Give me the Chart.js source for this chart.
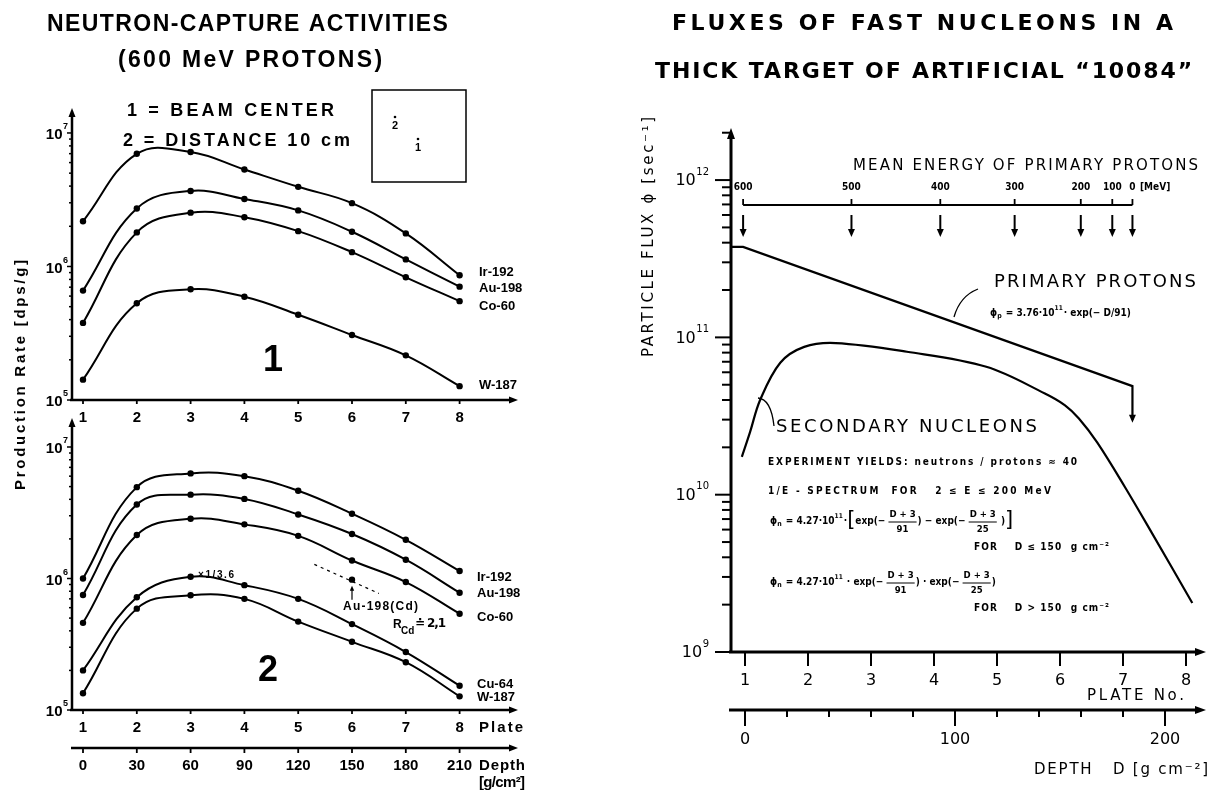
<!DOCTYPE html>
<html>
<head>
<meta charset="utf-8">
<title>Neutron-capture activities / fluxes of fast nucleons</title>
<script src="https://cdn.jsdelivr.net/npm/chart.js@4.4.0/dist/chart.umd.min.js"></script>
<style>
  body { margin: 0; background: #fff; width: 1211px; height: 793px; overflow: hidden; position: relative; }
  canvas { position: absolute; top: 0; }
</style>
</head>
<body>
<canvas id="centerChart" width="590" height="793" style="left:0"></canvas>
<canvas id="offAxisChart" width="590" height="793" style="left:0"></canvas>
<canvas id="fluxChart" width="621" height="793" style="left:590px"></canvas>
<script>
// plate numbers along the target (one plate = 30 g/cm2)
const plates = [1, 2, 3, 4, 5, 6, 7, 8];
const G_PER_PLATE = 30;

// production rates [dps/g], panel 1 = beam center
const centerNames = ['Ir-192', 'Au-198', 'Co-60', 'W-187'];
const ir192Center = [2.18e6, 6.98e6, 7.2e6, 5.33e6, 3.95e6, 2.98e6, 1.77e6, 8.6e5];
const au198Center = [6.6e5, 2.72e6, 3.68e6, 3.2e6, 2.63e6, 1.82e6, 1.13e6, 7.06e5];
const co60Center = [3.78e5, 1.8e6, 2.53e6, 2.34e6, 1.84e6, 1.28e6, 8.3e5, 5.5e5];
const w187Center = [1.42e5, 5.3e5, 6.75e5, 5.93e5, 4.35e5, 3.07e5, 2.16e5, 1.27e5];

// panel 2 = 10 cm from the beam axis
const offAxisNames = ['Ir-192', 'Au-198', 'Co-60', 'Cu-64', 'W-187'];
const ir192Off = [1.0e6, 4.95e6, 6.3e6, 6.0e6, 4.65e6, 3.11e6, 1.97e6, 1.14e6];
const au198Off = [7.5e5, 3.65e6, 4.34e6, 4.03e6, 3.07e6, 2.18e6, 1.39e6, 7.8e5];
const co60Off = [4.6e5, 2.14e6, 2.85e6, 2.58e6, 2.11e6, 1.37e6, 9.4e5, 5.4e5];
const cu64Off = [2.0e5, 7.2e5, 1.03e6, 8.9e5, 7.0e5, 4.5e5, 2.76e5, 1.53e5];
const w187Off = [1.34e5, 5.9e5, 7.45e5, 7.0e5, 4.7e5, 3.3e5, 2.31e5, 1.27e5];
// cadmium-covered gold at plate 6 and the dashed trend through it
const auCdPlate = [6];
const auCdRate = [9.8e5];
const auCdTrendPlate = [5.3, 6.5];
const auCdTrendRate = [1.28e6, 7.7e5];

// fluxes [1/sec] in the thick target
const primaryPlate = [0.78, 0.97, 7.15, 7.15];
const primaryFlux = [3.76e11, 3.76e11, 4.9e10, 3.0e10];
const secondaryPlate = [0.95, 1.08, 1.24, 1.56, 1.94, 2.44, 3.57, 4.83, 5.76, 6.08, 6.3, 6.59, 7.03, 7.46, 8.10];
const secondaryFlux = [1.74e10, 2.5e10, 4.0e10, 6.9e10, 8.7e10, 9.2e10, 8.1e10, 6.5e10, 4.4e10, 3.7e10, 3.05e10, 2.15e10, 1.12e10, 5.7e9, 2.05e9];

// mean primary proton energy [MeV] reached at each plate position
const energyLabels = ['600', '500', '400', '300', '200', '100', '0'];
const energyPlates = [0.97, 2.69, 4.10, 5.28, 6.33, 6.83, 7.15];

// axis tick labels
const leftDecades = [5, 6, 7];
const rightDecades = [9, 10, 11, 12];
const depthLabelsLeft = [0, 30, 60, 90, 120, 150, 180, 210];
const depthLabelsRight = [0, 100, 200];
const depthTicksRight = [0, 20, 40, 60, 80, 100, 120, 140, 160, 180, 200];

const F_LEFT = '"Liberation Sans", "DejaVu Sans", sans-serif';
const F_RIGHT = '"DejaVu Sans", "Liberation Sans", sans-serif';
const F_COND = '"DejaVu Sans Condensed", "Liberation Sans Narrow", "DejaVu Sans", sans-serif';

const depthToPlate = d => 1 + d / G_PER_PLATE;
const pts = (xs, ys) => xs.map((x, i) => ({ x, y: ys[i] }));

function series(xs, ys, extra) {
  return Object.assign({
    data: pts(xs, ys),
    borderColor: '#000', backgroundColor: '#000', borderWidth: 2,
    pointRadius: 3.2, pointBackgroundColor: '#000', pointBorderWidth: 0,
    tension: 0.4, clip: false
  }, extra || {});
}

function options(xmin, xmax, ymin, ymax, padding) {
  return {
    responsive: false, animation: false, events: [],
    layout: { padding },
    plugins: { legend: { display: false }, tooltip: { enabled: false } },
    scales: {
      x: { type: 'linear', min: xmin, max: xmax, display: false },
      y: { type: 'logarithmic', min: ymin, max: ymax, display: false }
    }
  };
}

// ---- drawing helpers ----
function line(ctx, x1, y1, x2, y2, w) {
  ctx.lineWidth = w;
  ctx.beginPath(); ctx.moveTo(x1, y1); ctx.lineTo(x2, y2); ctx.stroke();
}

function arrow(ctx, x, y, dir, len, half) {
  ctx.beginPath();
  ctx.moveTo(x, y);
  if (dir === 'up') { ctx.lineTo(x - half, y + len); ctx.lineTo(x + half, y + len); }
  else if (dir === 'down') { ctx.lineTo(x - half, y - len); ctx.lineTo(x + half, y - len); }
  else { ctx.lineTo(x - len, y - half); ctx.lineTo(x - len, y + half); }
  ctx.closePath(); ctx.fill();
}

// text, optionally spread to a given width via letter spacing
function put(ctx, s, x, y, font, width, align) {
  ctx.font = font;
  ctx.textBaseline = 'middle';
  ctx.letterSpacing = '0px';
  if (width) {
    const w = ctx.measureText(s).width;
    ctx.letterSpacing = ((width - w) / Math.max(1, s.length - 1)).toFixed(2) + 'px';
    ctx.textAlign = 'left';
  } else {
    ctx.textAlign = align || 'left';
  }
  ctx.fillText(s, x, y);
  ctx.letterSpacing = '0px';
}

function putUp(ctx, s, x, yStart, font, width) {
  ctx.save();
  ctx.translate(x, yStart);
  ctx.rotate(-Math.PI / 2);
  put(ctx, s, 0, 0, font, width);
  ctx.restore();
}

// small formula typesetter: strings, {sub}, {sup}, {big}, {num, den}
function formula(ctx, parts, x, y, size) {
  let cx = x;
  const f = s => `bold ${s}px ${F_COND}`;
  ctx.textBaseline = 'middle';
  parts.forEach(p => {
    ctx.textAlign = 'left';
    if (typeof p === 'string') {
      ctx.font = f(size); ctx.fillText(p, cx, y); cx += ctx.measureText(p).width;
    } else if (p.sup) {
      ctx.font = f(size * 0.65); ctx.fillText(p.sup, cx, y - size * 0.45); cx += ctx.measureText(p.sup).width + 1;
    } else if (p.sub) {
      ctx.font = f(size * 0.7); ctx.fillText(p.sub, cx, y + size * 0.35); cx += ctx.measureText(p.sub).width + 1;
    } else if (p.big) {
      ctx.font = `${size * 2.1}px ${F_RIGHT}`; ctx.fillText(p.big, cx, y); cx += ctx.measureText(p.big).width;
    } else if (p.num) {
      ctx.font = f(size * 0.95);
      const w = Math.max(ctx.measureText(p.num).width, ctx.measureText(p.den).width) + 2;
      ctx.textAlign = 'center';
      ctx.fillText(p.num, cx + w / 2, y - size * 0.6);
      ctx.fillText(p.den, cx + w / 2, y + size * 0.85);
      line(ctx, cx, y + 1, cx + w, y + 1, 1);
      cx += w + 1;
    }
  });
}

function logAxis(ctx, a, ys, decades, o) {
  line(ctx, a.left, a.bottom + 1, a.left, a.top + 6, o.width);
  arrow(ctx, a.left, a.top, 'up', o.head, o.half);
  const lo = Math.floor(Math.log10(ys.min)), hi = Math.log10(ys.max);
  for (let e = lo; e <= hi; e++) {
    for (let k = 1; k < 10; k++) {
      const v = k * Math.pow(10, e);
      if (v < ys.min * 0.999 || v > ys.max) continue;
      const py = ys.getPixelForValue(v);
      line(ctx, a.left - (k === 1 ? o.major : o.minor), py, a.left, py, o.tickWidth);
    }
  }
  decades.forEach(e => {
    const py = ys.getPixelForValue(Math.pow(10, e));
    ctx.textAlign = 'right'; ctx.textBaseline = 'middle';
    ctx.font = o.supFont;
    ctx.fillText(String(e), o.labelRight, py + o.supDy);
    const sw = ctx.measureText(String(e)).width;
    ctx.font = o.font;
    ctx.fillText('10', o.labelRight - sw - 0.5, py + o.dy);
  });
}

function plateAxis(ctx, a, xs, o) {
  line(ctx, a.left - 2, a.bottom, a.right - 6, a.bottom, o.width);
  arrow(ctx, a.right, a.bottom, 'right', o.head, o.half);
  plates.forEach(p => {
    const px = xs.getPixelForValue(p);
    line(ctx, px, a.bottom, px, a.bottom + o.tick, o.tickWidth);
    put(ctx, String(p), px, o.labelY, o.font, 0, 'center');
  });
}

const LEFT_Y = {
  width: 2.5, head: 9, half: 3.5, major: 5, minor: 3, tickWidth: 1.5,
  font: `bold 15px ${F_LEFT}`, supFont: `bold 9px ${F_LEFT}`, labelRight: 68, dy: 2, supDy: -6
};
const LEFT_X = { width: 2.5, head: 9, half: 3.5, tick: 4, tickWidth: 1.8, font: `bold 15px ${F_LEFT}` };

function seriesLabels(ctx, ys, names, lasts, offsets, x) {
  names.forEach((n, i) => {
    put(ctx, n, x, ys.getPixelForValue(lasts[i]) + offsets[i], `bold 13px ${F_LEFT}`, 0);
  });
}

// ---- panel 1: beam center ----
const centerDeco = {
  id: 'centerDeco',
  afterDraw(chart) {
    const { ctx, chartArea: a, scales: { x, y } } = chart;
    ctx.save();
    ctx.fillStyle = ctx.strokeStyle = '#000';
    put(ctx, 'NEUTRON-CAPTURE ACTIVITIES', 47, 25, `bold 23px ${F_LEFT}`, 401);
    put(ctx, '(600 MeV PROTONS)', 118, 61, `bold 23px ${F_LEFT}`, 264);
    put(ctx, '1 = BEAM CENTER', 127, 111, `bold 18px ${F_LEFT}`, 207);
    put(ctx, '2 = DISTANCE 10 cm', 123, 141, `bold 18px ${F_LEFT}`, 227);

    // sketch of the two sample positions
    ctx.lineWidth = 1.5;
    ctx.strokeRect(372, 90, 94, 92);
    put(ctx, '2', 395, 126, `bold 11px ${F_LEFT}`, 0, 'center');
    put(ctx, '1', 418, 148, `bold 11px ${F_LEFT}`, 0, 'center');
    ctx.beginPath(); ctx.arc(395, 117, 1.3, 0, 2 * Math.PI); ctx.fill();
    ctx.beginPath(); ctx.arc(418, 139, 1.3, 0, 2 * Math.PI); ctx.fill();

    logAxis(ctx, a, y, leftDecades, LEFT_Y);
    plateAxis(ctx, a, x, Object.assign({ labelY: 418 }, LEFT_X));

    const lasts = [ir192Center, au198Center, co60Center, w187Center].map(s => s[s.length - 1]);
    seriesLabels(ctx, y, centerNames, lasts, [-3, 2, 5, -1], 479);
    put(ctx, '1', 273, 361, `bold 36px ${F_LEFT}`, 0, 'center');
    ctx.restore();
  }
};

new Chart(document.getElementById('centerChart'), {
  type: 'line',
  data: {
    datasets: [
      series(plates, ir192Center),
      series(plates, au198Center),
      series(plates, co60Center),
      series(plates, w187Center)
    ]
  },
  options: options(0.7955, 9.0855, 1e5, Math.pow(10, 7.187), { left: 72, right: 72, top: 108, bottom: 393 }),
  plugins: [centerDeco]
});

// ---- panel 2: 10 cm off axis ----
const offAxisDeco = {
  id: 'offAxisDeco',
  afterDraw(chart) {
    const { ctx, chartArea: a, scales: { x, y } } = chart;
    ctx.save();
    ctx.fillStyle = ctx.strokeStyle = '#000';
    logAxis(ctx, a, y, leftDecades, LEFT_Y);
    plateAxis(ctx, a, x, Object.assign({ labelY: 728 }, LEFT_X));
    put(ctx, 'Plate', 479, 728, `bold 15px ${F_LEFT}`, 44);

    // depth scale under the plate axis
    const dy = 748;
    line(ctx, a.left - 1, dy, a.right - 6, dy, 2.5);
    arrow(ctx, a.right, dy, 'right', 9, 3.5);
    depthLabelsLeft.forEach(d => {
      const px = x.getPixelForValue(depthToPlate(d));
      line(ctx, px, dy, px, dy + 5, 1.8);
      put(ctx, String(d), px, 766, `bold 15px ${F_LEFT}`, 0, 'center');
    });
    put(ctx, 'Depth', 479, 766, `bold 15px ${F_LEFT}`, 46);
    put(ctx, '[g/cm²]', 479, 783, `bold 15px ${F_LEFT}`, 46);

    putUp(ctx, 'Production Rate [dps/g]', 21, 490, `bold 15px ${F_LEFT}`, 230);

    const lasts = [ir192Off, au198Off, co60Off, cu64Off, w187Off].map(s => s[s.length - 1]);
    seriesLabels(ctx, y, offAxisNames, lasts, [6, 1, 4, -1, 1], 477);

    put(ctx, '×1/3.6', 198, 575, `bold 10px ${F_LEFT}`, 36);

    // Au-198 behind cadmium
    const cx = x.getPixelForValue(auCdPlate[0]);
    const cy = y.getPixelForValue(auCdRate[0]);
    line(ctx, cx, cy + 20, cx, cy + 10, 1.2);
    arrow(ctx, cx, cy + 6, 'up', 5, 2.2);
    put(ctx, 'Au-198(Cd)', 343, 607, `bold 12px ${F_LEFT}`, 75);
    put(ctx, 'R', 393, 625, `bold 12px ${F_LEFT}`, 0);
    put(ctx, 'Cd', 401, 631, `bold 10px ${F_LEFT}`, 0);
    put(ctx, '≐ 2,1', 415, 624, `bold 12px ${F_RIGHT}`, 31);

    put(ctx, '2', 268, 671, `bold 36px ${F_LEFT}`, 0, 'center');
    ctx.restore();
  }
};

new Chart(document.getElementById('offAxisChart'), {
  type: 'line',
  data: {
    datasets: [
      series(plates, ir192Off),
      series(plates, au198Off),
      series(plates, co60Off),
      series(plates, cu64Off),
      series(plates, w187Off),
      series(auCdTrendPlate, auCdTrendRate, { pointRadius: 0, borderWidth: 1.2, borderDash: [3, 4], tension: 0 }),
      series(auCdPlate, auCdRate, { showLine: false })
    ]
  },
  options: options(0.7955, 9.0855, 1e5, Math.pow(10, 7.2205), { left: 72, right: 72, top: 418, bottom: 83 }),
  plugins: [offAxisDeco]
});

// ---- fluxes of primary protons and secondary nucleons ----
const fluxDeco = {
  id: 'fluxDeco',
  afterDraw(chart) {
    const { ctx, chartArea: a, scales: { x, y } } = chart;
    ctx.save();
    ctx.fillStyle = ctx.strokeStyle = '#000';
    put(ctx, 'FLUXES OF FAST NUCLEONS IN A', 82, 24, `bold 22px ${F_RIGHT}`, 501);
    put(ctx, 'THICK TARGET OF ARTIFICIAL “10084”', 65, 72, `bold 22px ${F_RIGHT}`, 537);

    logAxis(ctx, a, y, rightDecades, {
      width: 3, head: 11, half: 4, major: 16, minor: 9, tickWidth: 2,
      font: `16px ${F_RIGHT}`, supFont: `10px ${F_RIGHT}`, labelRight: 119, dy: 1, supDy: -8
    });
    putUp(ctx, 'PARTICLE FLUX ϕ [sec⁻¹]', 59, 357, `15px ${F_RIGHT}`, 240);

    plateAxis(ctx, a, x, { width: 3, head: 11, half: 4, tick: 14, tickWidth: 2, labelY: 681, font: `16px ${F_RIGHT}` });
    put(ctx, 'PLATE No.', 497, 696, `15px ${F_RIGHT}`, 97);

    // depth scale
    const dy = 710;
    line(ctx, a.left - 2, dy, a.right - 8, dy, 3);
    arrow(ctx, a.right, dy, 'right', 11, 4);
    depthTicksRight.forEach(d => {
      const px = x.getPixelForValue(depthToPlate(d));
      const major = depthLabelsRight.includes(d);
      line(ctx, px, dy, px, dy + (major ? 16 : 7), 2);
      if (major) put(ctx, String(d), px, 740, `16px ${F_RIGHT}`, 0, 'center');
    });
    put(ctx, 'DEPTH   D [g cm⁻²]', 444, 770, `15px ${F_RIGHT}`, 174);

    // mean energy of the primary protons
    const ey = 205;
    const e0 = x.getPixelForValue(energyPlates[0]);
    const e1 = x.getPixelForValue(energyPlates[energyPlates.length - 1]);
    line(ctx, e0, ey, e1, ey, 1.8);
    energyPlates.forEach((p, i) => {
      const px = x.getPixelForValue(p);
      line(ctx, px, ey, px, ey - 6, 1.8);
      put(ctx, energyLabels[i], px, 187, `bold 10px ${F_COND}`, 0, 'center');
      line(ctx, px, 215, px, 230, 2);
      arrow(ctx, px, 237, 'down', 8, 3.5);
    });
    put(ctx, '[MeV]', 550, 187, `bold 10px ${F_COND}`, 0);
    put(ctx, 'MEAN ENERGY OF PRIMARY PROTONS', 263, 166, `15px ${F_RIGHT}`, 345);

    // primary beam ends where the protons are stopped
    const n = primaryPlate.length - 1;
    arrow(ctx, x.getPixelForValue(primaryPlate[n]), y.getPixelForValue(primaryFlux[n]) + 3, 'down', 8, 3.5);

    put(ctx, 'PRIMARY PROTONS', 404, 282, `18px ${F_RIGHT}`, 202);
    formula(ctx, ['ϕ', { sub: 'p' }, ' = 3.76·10', { sup: '11' }, '· exp(− D/91)'], 400, 313, 10);
    ctx.lineWidth = 1.3;
    ctx.beginPath(); ctx.moveTo(388, 289); ctx.quadraticCurveTo(370, 296, 364, 317); ctx.stroke();

    put(ctx, 'SECONDARY NUCLEONS', 186, 427, `18px ${F_RIGHT}`, 261);
    ctx.beginPath(); ctx.moveTo(168, 398); ctx.quadraticCurveTo(181, 399, 184, 426); ctx.stroke();

    put(ctx, 'EXPERIMENT YIELDS: neutrons / protons ≈ 40', 178, 462, `bold 10px ${F_COND}`, 309);
    put(ctx, '1/E - SPECTRUM  FOR   2 ≤ E ≤ 200 MeV', 178, 491, `bold 10px ${F_COND}`, 283);
    formula(ctx, ['ϕ', { sub: 'n' }, ' = 4.27·10', { sup: '11' }, '·', { big: '[' }, 'exp(− ', { num: 'D + 3', den: '91' },
      ') − exp(− ', { num: 'D + 3', den: '25' }, ' )', { big: ']' }], 180, 521, 10);
    put(ctx, 'FOR    D ≤ 150  g cm⁻²', 384, 547, `bold 10px ${F_COND}`, 135);
    formula(ctx, ['ϕ', { sub: 'n' }, ' = 4.27·10', { sup: '11' }, ' · exp(− ', { num: 'D + 3', den: '91' },
      ') · exp(− ', { num: 'D + 3', den: '25' }, ')'], 180, 582, 10);
    put(ctx, 'FOR    D > 150  g cm⁻²', 384, 608, `bold 10px ${F_COND}`, 135);
    ctx.restore();
  }
};

new Chart(document.getElementById('fluxChart'), {
  type: 'line',
  data: {
    datasets: [
      series(primaryPlate, primaryFlux, { pointRadius: 0, borderWidth: 2.2, tension: 0 }),
      series(secondaryPlate, secondaryFlux, { pointRadius: 0, borderWidth: 2.2, tension: 0.35 })
    ]
  },
  options: options(0.7778, 8.3175, 1e9, Math.pow(10, 12.331), { left: 141, right: 5, top: 128, bottom: 141 }),
  plugins: [fluxDeco]
});
</script>
</body>
</html>
